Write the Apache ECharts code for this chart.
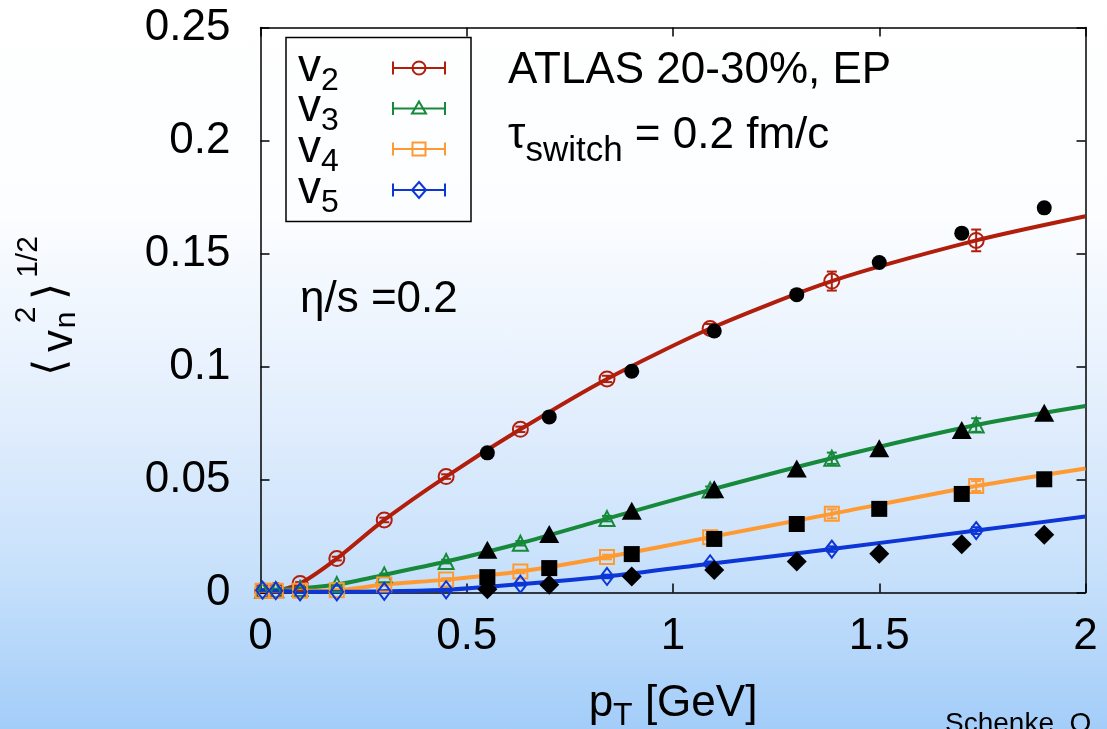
<!DOCTYPE html>
<html>
<head>
<meta charset="utf-8">
<script src="https://cdn.jsdelivr.net/npm/echarts@6/dist/echarts.min.js"></script>
<style>
  html, body { margin: 0; padding: 0; }
  #chart {
    width: 1107px; height: 729px;
    background: linear-gradient(to bottom, #ffffff 0%, #fbfdff 30%, #e4effd 55%, #c8e1fb 78%, #a3cdf9 100%);
  }
</style>
</head>
<body>
<div id="chart"></div>
<script>
// Hydro calculation (open symbols + curves), pT in GeV
const simPt = [0.005, 0.037, 0.096, 0.185, 0.30, 0.45, 0.63, 0.84, 1.09, 1.385, 1.735];
const simV2 = [0.0008, 0.0009, 0.0040, 0.0150, 0.0321, 0.0513, 0.0722, 0.0945, 0.1168, 0.1378, 0.1558];
const simV3 = [0.0010, 0.0012, 0.0018, 0.0035, 0.0078, 0.0137, 0.0218, 0.0327, 0.0454, 0.0594, 0.0741];
const simV4 = [0.0008, 0.0008, 0.0008, 0.0010, 0.0035, 0.0057, 0.0093, 0.0157, 0.0245, 0.0348, 0.0471];
const simV5 = [0.0010, 0.0008, 0.0003, 0.0003, 0.0005, 0.0012, 0.0037, 0.0071, 0.0127, 0.0192, 0.0274];
const simErrV2 = [0.0005, 0.0005, 0.0006, 0.0008, 0.0010, 0.0010, 0.0012, 0.0014, 0.0020, 0.0042, 0.0048];
const simErrV3 = [0.0004, 0.0004, 0.0004, 0.0005, 0.0006, 0.0008, 0.0010, 0.0012, 0.0015, 0.0025, 0.0030];
const simErrV4 = [0.0003, 0.0003, 0.0003, 0.0004, 0.0005, 0.0006, 0.0008, 0.0010, 0.0012, 0.0020, 0.0022];
const simErrV5 = [0.0003, 0.0003, 0.0003, 0.0003, 0.0004, 0.0005, 0.0006, 0.0008, 0.0010, 0.0012, 0.0015];
// curves continue to the right edge of the frame
const curveEndPt = 2.0;
const curveEndV = { v2: 0.1665, v3: 0.0825, v4: 0.0549, v5: 0.0336 };

// ATLAS 20-30% event-plane data (filled black symbols)
const atlasPt = [0.55, 0.70, 0.90, 1.10, 1.30, 1.50, 1.70, 1.90];
const atlasV2 = [0.0618, 0.0777, 0.0979, 0.1157, 0.1318, 0.1460, 0.1590, 0.1702];
const atlasV3 = [0.0189, 0.0259, 0.0362, 0.0457, 0.0549, 0.0638, 0.0719, 0.0795];
const atlasV4 = [0.0068, 0.0108, 0.0170, 0.0237, 0.0303, 0.0370, 0.0436, 0.0501];
const atlasV5 = [0.0014, 0.0034, 0.0071, 0.0100, 0.0137, 0.0171, 0.0214, 0.0255];

const xTicks = [0, 0.5, 1, 1.5, 2];
const yTicks = [0, 0.05, 0.1, 0.15, 0.2, 0.25];

const COL = { v2: '#b21e0c', v3: '#16893a', v4: '#ff9a32', v5: '#0c36d6' };
const FONT = '"Liberation Sans", Arial, Helvetica, sans-serif';

const chart = echarts.init(document.getElementById('chart'), null, { renderer: 'canvas' });

function pairs(xs, ys) { return xs.map((x, i) => [x, ys[i]]); }

function curve(key, ys) {
  return {
    type: 'line', name: key + ' curve',
    data: pairs(simPt, ys).concat([[curveEndPt, curveEndV[key]]]),
    smooth: 0.25, showSymbol: false, symbol: 'none',
    lineStyle: { color: COL[key], width: 4 }, z: 2, silent: true
  };
}

function errBars(key, ys, errs) {
  const color = COL[key];
  return {
    type: 'custom', name: key + ' errors',
    data: simPt.map((x, i) => [x, ys[i] - errs[i], ys[i] + errs[i]]),
    encode: { x: 0, y: [1, 2] },
    renderItem(params, api) {
      const x = api.value(0);
      const lo = api.coord([x, api.value(1)]);
      const hi = api.coord([x, api.value(2)]);
      const w = 5;
      const st = { stroke: color, lineWidth: 2 };
      return {
        type: 'group', children: [
          { type: 'line', shape: { x1: lo[0], y1: lo[1], x2: hi[0], y2: hi[1] }, style: st },
          { type: 'line', shape: { x1: lo[0] - w, y1: lo[1], x2: lo[0] + w, y2: lo[1] }, style: st },
          { type: 'line', shape: { x1: hi[0] - w, y1: hi[1], x2: hi[0] + w, y2: hi[1] }, style: st }
        ]
      };
    },
    z: 3, silent: true
  };
}

function openMarks(key, ys, symbol, size) {
  return {
    type: 'scatter', name: key,
    data: pairs(simPt, ys), symbol, symbolSize: size,
    itemStyle: { color: 'rgba(0,0,0,0)', borderColor: COL[key], borderWidth: 2, opacity: 1 },
    z: 4, silent: true
  };
}

function atlasMarks(name, ys, symbol, size) {
  return {
    type: 'scatter', name,
    data: pairs(atlasPt, ys), symbol, symbolSize: size,
    itemStyle: { color: '#000', opacity: 1 },
    z: 5, silent: true
  };
}

// legend drawn as a boxed key with error-bar icons
const legendRows = [
  { key: 'v2', sub: '2', y: 68 },
  { key: 'v3', sub: '3', y: 108.5 },
  { key: 'v4', sub: '4', y: 149 },
  { key: 'v5', sub: '5', y: 190 }
];
function legendIcon(key, cy) {
  const c = COL[key], st = { stroke: c, lineWidth: 2, fill: null };
  const x1 = 393, x2 = 445, cx = 419, h = 6.5;
  const els = [
    { type: 'line', shape: { x1, y1: cy, x2, y2: cy }, style: st },
    { type: 'line', shape: { x1, y1: cy - h, x2: x1, y2: cy + h }, style: st },
    { type: 'line', shape: { x1: x2, y1: cy - h, x2, y2: cy + h }, style: st }
  ];
  const fillBg = 'rgba(255,255,255,0)';
  if (key === 'v2') els.push({ type: 'circle', shape: { cx, cy, r: 6.5 }, style: { stroke: c, lineWidth: 2, fill: fillBg } });
  if (key === 'v3') els.push({ type: 'polygon', shape: { points: [[cx, cy - 7], [cx + 7, cy + 5], [cx - 7, cy + 5]] }, style: { stroke: c, lineWidth: 2, fill: fillBg } });
  if (key === 'v4') els.push({ type: 'rect', shape: { x: cx - 6.5, y: cy - 6.5, width: 13, height: 13 }, style: { stroke: c, lineWidth: 2, fill: fillBg } });
  if (key === 'v5') els.push({ type: 'polygon', shape: { points: [[cx, cy - 8], [cx + 7, cy], [cx, cy + 8], [cx - 7, cy]] }, style: { stroke: c, lineWidth: 2, fill: fillBg } });
  return els;
}

const graphics = [
  { type: 'rect', shape: { x: 286, y: 37.5, width: 185, height: 184 }, style: { fill: null, stroke: '#000', lineWidth: 1.5 }, z: 10 }
];
legendRows.forEach(r => {
  graphics.push({
    type: 'text', x: 298, y: r.y, z: 10,
    style: {
      text: '{v|v}{s|' + r.sub + '}', verticalAlign: 'middle', align: 'left',
      rich: {
        v: { fontSize: 46, fontFamily: FONT, fill: '#000' },
        s: { fontSize: 32, fontFamily: FONT, fill: '#000', padding: [26, 0, 0, 0] }
      }
    }
  });
  legendIcon(r.key, r.y).forEach(e => { e.z = 10; graphics.push(e); });
});

// annotations
graphics.push(
  { type: 'text', x: 508, y: 71, z: 10, style: { text: 'ATLAS 20-30%, EP', font: '44px ' + FONT, fill: '#000', verticalAlign: 'middle' } },
  {
    type: 'text', x: 508, y: 136, z: 10,
    style: {
      text: '{m|τ}{s|switch}{m| = 0.2 fm/c}', verticalAlign: 'middle',
      rich: {
        m: { fontSize: 44, fontFamily: FONT, fill: '#000' },
        s: { fontSize: 35, fontFamily: FONT, fill: '#000', padding: [30, 0, 0, 0] }
      }
    }
  },
  { type: 'text', x: 300, y: 300, z: 10, style: { text: 'η/s =0.2', font: '44px ' + FONT, fill: '#000', verticalAlign: 'middle' } },
  { type: 'text', x: 945, y: 724, z: 10, style: { text: 'Schenke, O', font: '28px ' + FONT, fill: '#000', verticalAlign: 'middle' } }
);

// rotated y-axis title: <v_n^2>^(1/2)
const yTitleParts = [
  { t: '⟨', fs: 44, x: 52, y: 367 },
  { t: 'v', fs: 44, x: 60, y: 341 },
  { t: 'n', fs: 30, x: 67, y: 320 },
  { t: '2', fs: 30, x: 27, y: 315 },
  { t: '⟩', fs: 44, x: 52, y: 291 },
  { t: '1/2', fs: 30, x: 29, y: 257 }
];
yTitleParts.forEach(p => graphics.push({
  type: 'text', x: p.x, y: p.y, rotation: Math.PI / 2, z: 10,
  style: { text: p.t, font: p.fs + 'px ' + FONT, fill: '#000', align: 'center', verticalAlign: 'middle' }
}));

const axisLineStyle = { color: '#000', width: 1.5 };
const tickStyle = { show: true, inside: true, length: 9, lineStyle: { color: '#000', width: 1.5 } };
const labelStyle = { fontSize: 44, fontFamily: FONT, color: '#000' };
const frameLine = { show: true, onZero: false, lineStyle: axisLineStyle };

const option = {
  animation: false,
  backgroundColor: 'transparent',
  grid: { left: 260.5, right: 21.5, top: 27.5, bottom: 136.5, containLabel: false, outerBoundsMode: 'none' },
  xAxis: [
    {
      type: 'value', min: xTicks[0], max: xTicks[xTicks.length - 1], interval: 0.5,
      axisLine: frameLine, axisTick: tickStyle,
      axisLabel: Object.assign({ margin: 22, formatter: v => String(v) }, labelStyle),
      splitLine: { show: false },
      name: 'p{sub|T} [GeV]', nameLocation: 'middle', nameGap: 82,
      nameTextStyle: {
        fontSize: 44, fontFamily: FONT, color: '#000',
        rich: { sub: { fontSize: 32, fontFamily: FONT, color: '#000', padding: [26, 0, 0, 0] } }
      }
    },
    {
      type: 'value', position: 'top', min: xTicks[0], max: xTicks[xTicks.length - 1], interval: 0.5,
      axisLine: frameLine, axisTick: tickStyle,
      axisLabel: { show: false }, splitLine: { show: false }
    }
  ],
  yAxis: [
    {
      type: 'value', min: yTicks[0], max: yTicks[yTicks.length - 1], interval: 0.05,
      axisLine: frameLine, axisTick: tickStyle,
      axisLabel: Object.assign({ margin: 30, formatter: v => String(+v.toFixed(2)) }, labelStyle),
      splitLine: { show: false }
    },
    {
      type: 'value', position: 'right', min: yTicks[0], max: yTicks[yTicks.length - 1], interval: 0.05,
      axisLine: frameLine, axisTick: tickStyle,
      axisLabel: { show: false }, splitLine: { show: false }
    }
  ],
  series: [
    curve('v2', simV2), curve('v3', simV3), curve('v4', simV4), curve('v5', simV5),
    errBars('v2', simV2, simErrV2), errBars('v3', simV3, simErrV3),
    errBars('v4', simV4, simErrV4), errBars('v5', simV5, simErrV5),
    openMarks('v2', simV2, 'circle', 15),
    openMarks('v3', simV3, 'triangle', 15),
    openMarks('v4', simV4, 'rect', 14),
    openMarks('v5', simV5, 'diamond', [13, 17]),
    atlasMarks('ATLAS v2', atlasV2, 'circle', 15),
    atlasMarks('ATLAS v3', atlasV3, 'triangle', [20, 18]),
    atlasMarks('ATLAS v4', atlasV4, 'rect', 16),
    atlasMarks('ATLAS v5', atlasV5, 'diamond', 20)
  ],
  graphic: graphics
};

chart.setOption(option);
</script>
</body>
</html>
